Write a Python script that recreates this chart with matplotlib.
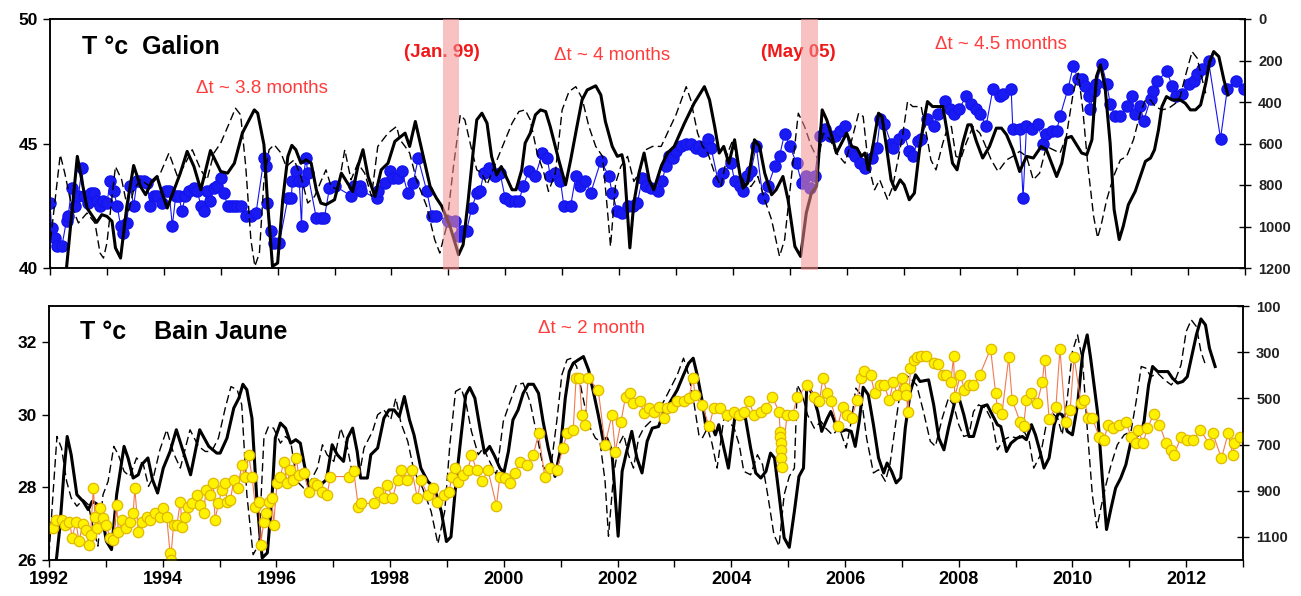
import matplotlib
matplotlib.use("Agg")
import matplotlib.pyplot as plt

plt.rcParams["font.family"] = ["Liberation Sans", "DejaVu Sans"]

# ── Data ─────────────────────────────────────────────────────────────────────
# Galion: blue dots = temperature (left axis), black lines on the inverted right axis
GALION_T = [
    (1992.00, 42.6), (1992.03, 41.6), (1992.09, 41.2), (1992.13, 40.9), (1992.21, 40.9), (1992.29, 41.9),
    (1992.32, 42.1), (1992.38, 43.2), (1992.44, 42.5), (1992.50, 42.9), (1992.56, 44.0), (1992.60, 42.9),
    (1992.66, 42.6), (1992.72, 43.0), (1992.78, 43.0), (1992.82, 42.7), (1992.88, 42.5), (1992.94, 42.7),
    (1993.00, 42.6), (1993.06, 43.5), (1993.12, 43.1), (1993.18, 42.5), (1993.24, 41.7), (1993.29, 41.4),
    (1993.35, 41.8), (1993.41, 43.3), (1993.47, 42.5), (1993.53, 43.5), (1993.59, 43.5), (1993.65, 43.5),
    (1993.71, 43.4), (1993.76, 42.5), (1993.82, 42.9), (1993.88, 42.9), (1993.97, 42.6), (1994.03, 43.1),
    (1994.09, 43.1), (1994.15, 41.7), (1994.21, 42.9), (1994.26, 42.9), (1994.32, 42.3), (1994.38, 42.9),
    (1994.44, 43.1), (1994.53, 43.2), (1994.59, 43.1), (1994.65, 42.5), (1994.71, 42.3), (1994.76, 43.1),
    (1994.82, 42.7), (1994.88, 43.2), (1994.94, 43.3), (1995.00, 43.6), (1995.06, 43.0), (1995.12, 42.5),
    (1995.18, 42.5), (1995.24, 42.5), (1995.29, 42.5), (1995.35, 42.5), (1995.44, 42.1), (1995.53, 42.1),
    (1995.62, 42.2), (1995.76, 44.4), (1995.79, 44.1), (1995.82, 42.6), (1995.88, 41.5), (1995.94, 41.0),
    (1996.03, 41.0), (1996.18, 42.8), (1996.24, 42.8), (1996.26, 43.5), (1996.32, 43.9), (1996.38, 43.5),
    (1996.42, 41.7), (1996.44, 43.5), (1996.50, 44.4), (1996.53, 43.8), (1996.68, 42.0), (1996.76, 42.0),
    (1996.82, 42.0), (1996.91, 43.2), (1997.00, 43.3), (1997.29, 42.9), (1997.35, 43.3), (1997.44, 43.3),
    (1997.47, 43.1), (1997.74, 42.8), (1997.76, 43.1), (1997.88, 43.4), (1997.97, 43.9), (1998.03, 43.6),
    (1998.12, 43.6), (1998.18, 43.9), (1998.29, 43.0), (1998.38, 43.4), (1998.47, 44.4), (1998.62, 43.1),
    (1998.71, 42.1), (1998.79, 42.1), (1999.00, 41.9), (1999.12, 41.9), (1999.18, 41.3), (1999.24, 41.5),
    (1999.32, 41.5), (1999.41, 42.4), (1999.50, 43.0), (1999.56, 43.1), (1999.62, 43.8), (1999.71, 44.0),
    (1999.82, 43.7), (1999.91, 43.8), (2000.00, 42.8), (2000.09, 42.7), (2000.18, 42.7), (2000.24, 42.7),
    (2000.32, 43.3), (2000.41, 43.9), (2000.53, 43.7), (2000.65, 44.6), (2000.74, 44.4), (2000.79, 43.7),
    (2000.88, 43.8), (2000.97, 43.5), (2001.03, 42.5), (2001.15, 42.5), (2001.24, 43.7), (2001.32, 43.3),
    (2001.41, 43.5), (2001.50, 43.0), (2001.68, 44.3), (2001.82, 43.7), (2001.88, 43.0), (2001.97, 42.3),
    (2002.06, 42.2), (2002.15, 42.5), (2002.24, 42.5), (2002.32, 42.6), (2002.41, 43.6), (2002.47, 43.3),
    (2002.56, 43.2), (2002.68, 43.1), (2002.76, 43.5), (2002.82, 44.1), (2002.88, 44.5), (2002.94, 44.4),
    (2003.00, 44.7), (2003.09, 44.9), (2003.18, 45.0), (2003.26, 45.0), (2003.35, 44.8), (2003.41, 44.9),
    (2003.47, 44.7), (2003.56, 45.2), (2003.62, 44.8), (2003.74, 43.5), (2003.82, 43.8), (2003.97, 44.2),
    (2004.03, 43.5), (2004.12, 43.3), (2004.18, 43.1), (2004.24, 43.7), (2004.32, 43.9), (2004.41, 44.9),
    (2004.53, 42.8), (2004.62, 43.3), (2004.74, 44.1), (2004.82, 44.5), (2004.91, 45.4), (2005.00, 44.9),
    (2005.12, 44.2), (2005.21, 43.4), (2005.29, 43.7), (2005.35, 43.2), (2005.44, 43.7), (2005.53, 45.3),
    (2005.62, 45.6), (2005.71, 45.3), (2005.79, 45.3), (2005.88, 45.5), (2005.97, 45.7), (2006.06, 44.7),
    (2006.15, 44.5), (2006.24, 44.2), (2006.32, 44.0), (2006.44, 44.4), (2006.53, 44.8), (2006.59, 46.0),
    (2006.66, 45.8), (2006.78, 45.0), (2006.81, 44.8), (2006.92, 45.2), (2007.01, 45.4), (2007.10, 44.7),
    (2007.16, 44.5), (2007.25, 45.1), (2007.31, 45.2), (2007.42, 46.0), (2007.54, 45.7), (2007.60, 46.2),
    (2007.72, 46.7), (2007.81, 46.4), (2007.89, 46.2), (2007.98, 46.4), (2008.10, 46.9), (2008.19, 46.6),
    (2008.28, 46.4), (2008.34, 46.2), (2008.45, 45.7), (2008.57, 47.2), (2008.69, 46.9), (2008.75, 47.0),
    (2008.89, 47.2), (2008.92, 45.6), (2009.04, 45.6), (2009.10, 42.8), (2009.16, 45.7), (2009.25, 45.6),
    (2009.36, 45.8), (2009.45, 45.0), (2009.51, 45.4), (2009.60, 45.5), (2009.69, 45.5), (2009.75, 46.1),
    (2009.89, 47.2), (2009.98, 48.1), (2010.07, 47.6), (2010.13, 47.6), (2010.19, 47.3), (2010.25, 46.9),
    (2010.28, 46.4), (2010.34, 47.1), (2010.39, 47.4), (2010.48, 48.2), (2010.57, 47.4), (2010.63, 46.6),
    (2010.72, 46.1), (2010.81, 46.1), (2010.92, 46.5), (2011.01, 46.9), (2011.07, 46.2), (2011.16, 46.5),
    (2011.22, 45.9), (2011.34, 46.8), (2011.39, 47.1), (2011.45, 47.5), (2011.63, 47.9), (2011.72, 47.3),
    (2011.78, 46.9), (2011.89, 47.0), (2012.01, 47.4), (2012.10, 47.5), (2012.16, 47.8), (2012.25, 48.0),
    (2012.36, 48.3), (2012.57, 45.2), (2012.69, 47.2), (2012.84, 47.5), (2012.98, 47.2),
]

GALION_SOLID = [
    (1992.00, 1200), (1992.08, 1260), (1992.20, 1260), (1992.29, 1200), (1992.48, 662), (1992.65, 911),
    (1992.82, 980), (1992.91, 943), (1993.00, 951), (1993.09, 975), (1993.15, 1103), (1993.24, 1152),
    (1993.35, 903), (1993.47, 706), (1993.59, 807), (1993.68, 847), (1993.79, 783), (1993.88, 759),
    (1993.97, 839), (1994.06, 911), (1994.18, 823), (1994.29, 743), (1994.41, 638), (1994.53, 711),
    (1994.65, 823), (1994.82, 634), (1995.00, 735), (1995.12, 743), (1995.24, 695), (1995.38, 550),
    (1995.59, 438), (1995.65, 454), (1995.76, 606), (1995.82, 871), (1995.91, 1192), (1996.00, 1176),
    (1996.09, 871), (1996.18, 662), (1996.25, 609), (1996.32, 630), (1996.41, 695), (1996.50, 679),
    (1996.59, 695), (1996.68, 823), (1996.76, 887), (1996.85, 895), (1997.00, 871), (1997.12, 743),
    (1997.21, 783), (1997.32, 831), (1997.41, 711), (1997.50, 630), (1997.59, 759), (1997.71, 855),
    (1997.82, 727), (1997.94, 695), (1998.06, 590), (1998.24, 550), (1998.32, 614), (1998.42, 494),
    (1998.56, 662), (1998.68, 807), (1998.79, 863), (1998.88, 900), (1999.03, 999), (1999.18, 1136),
    (1999.26, 1088), (1999.35, 871), (1999.44, 630), (1999.50, 486), (1999.59, 454), (1999.68, 502),
    (1999.76, 662), (1999.85, 751), (1999.93, 711), (2000.00, 751), (2000.12, 823), (2000.19, 823),
    (2000.29, 727), (2000.35, 598), (2000.44, 550), (2000.53, 462), (2000.62, 438), (2000.71, 446),
    (2000.79, 518), (2000.94, 679), (2001.06, 799), (2001.15, 679), (2001.26, 518), (2001.35, 390),
    (2001.44, 342), (2001.59, 322), (2001.68, 366), (2001.76, 494), (2001.88, 614), (2001.97, 662),
    (2002.05, 654), (2002.09, 703), (2002.19, 1103), (2002.26, 887), (2002.35, 743), (2002.44, 646),
    (2002.53, 775), (2002.61, 823), (2002.74, 711), (2002.85, 646), (2002.97, 614), (2003.15, 502),
    (2003.32, 406), (2003.50, 326), (2003.59, 390), (2003.68, 518), (2003.76, 646), (2003.84, 614),
    (2003.93, 695), (2004.03, 582), (2004.12, 743), (2004.18, 815), (2004.26, 791), (2004.38, 582),
    (2004.47, 614), (2004.56, 743), (2004.68, 847), (2004.76, 823), (2004.88, 759), (2004.97, 871),
    (2005.09, 1096), (2005.19, 1144), (2005.29, 935), (2005.38, 839), (2005.47, 807), (2005.53, 582),
    (2005.57, 438), (2005.65, 486), (2005.74, 566), (2005.82, 646), (2005.91, 598), (2006.00, 550),
    (2006.09, 614), (2006.18, 622), (2006.26, 662), (2006.32, 646), (2006.38, 727), (2006.47, 598),
    (2006.56, 454), (2006.62, 470), (2006.69, 598), (2006.78, 775), (2006.85, 823), (2006.94, 775),
    (2007.01, 799), (2007.10, 871), (2007.19, 839), (2007.28, 630), (2007.36, 486), (2007.42, 398),
    (2007.51, 422), (2007.69, 422), (2007.81, 614), (2007.86, 695), (2007.94, 727), (2008.04, 598),
    (2008.13, 510), (2008.19, 510), (2008.28, 590), (2008.39, 670), (2008.51, 614), (2008.63, 526),
    (2008.72, 526), (2008.81, 558), (2008.92, 630), (2009.04, 735), (2009.16, 662), (2009.28, 670),
    (2009.42, 614), (2009.51, 630), (2009.60, 695), (2009.69, 759), (2009.78, 695), (2009.86, 574),
    (2009.95, 566), (2010.04, 606), (2010.13, 646), (2010.22, 654), (2010.31, 582), (2010.39, 277),
    (2010.46, 221), (2010.54, 326), (2010.63, 598), (2010.70, 919), (2010.79, 1063), (2010.86, 999),
    (2010.95, 895), (2011.07, 831), (2011.16, 759), (2011.25, 686), (2011.34, 670), (2011.41, 630),
    (2011.48, 534), (2011.54, 422), (2011.62, 374), (2011.72, 390), (2011.86, 390), (2011.95, 406),
    (2012.04, 438), (2012.13, 438), (2012.22, 414), (2012.31, 310), (2012.38, 205), (2012.45, 157),
    (2012.54, 181), (2012.63, 294), (2012.70, 366),
]

GALION_DASHED = [
    (1992.01, 1064), (1992.18, 654), (1992.26, 743), (1992.38, 903), (1992.50, 983), (1992.65, 935),
    (1992.79, 983), (1992.88, 1128), (1992.94, 1152), (1993.00, 1080), (1993.15, 711), (1993.26, 775),
    (1993.38, 935), (1993.47, 823), (1993.59, 775), (1993.76, 807), (1993.94, 743), (1994.09, 646),
    (1994.24, 759), (1994.35, 711), (1994.50, 630), (1994.65, 727), (1994.76, 775), (1994.88, 646),
    (1995.00, 598), (1995.15, 502), (1995.26, 430), (1995.35, 462), (1995.44, 711), (1995.53, 1063),
    (1995.60, 1192), (1995.68, 1128), (1995.76, 775), (1995.85, 630), (1995.94, 606), (1996.06, 646),
    (1996.15, 711), (1996.29, 679), (1996.41, 759), (1996.53, 887), (1996.65, 855), (1996.76, 783),
    (1996.85, 727), (1996.94, 807), (1997.06, 823), (1997.18, 630), (1997.29, 775), (1997.41, 695),
    (1997.53, 743), (1997.65, 855), (1997.76, 614), (1997.94, 550), (1998.09, 518), (1998.15, 582),
    (1998.24, 614), (1998.32, 646), (1998.44, 775), (1998.62, 903), (1998.76, 1063), (1998.85, 1128),
    (1998.97, 999), (1999.09, 711), (1999.21, 462), (1999.29, 486), (1999.41, 630), (1999.50, 727),
    (1999.59, 743), (1999.68, 799), (1999.76, 743), (1999.88, 662), (2000.00, 582), (2000.12, 502),
    (2000.24, 446), (2000.35, 438), (2000.44, 486), (2000.56, 646), (2000.68, 743), (2000.76, 831),
    (2000.88, 743), (2001.00, 438), (2001.12, 350), (2001.24, 326), (2001.35, 382), (2001.47, 518),
    (2001.59, 614), (2001.71, 662), (2001.79, 903), (2001.85, 1096), (2001.94, 791), (2002.03, 711),
    (2002.15, 662), (2002.26, 783), (2002.35, 743), (2002.47, 630), (2002.59, 614), (2002.74, 614),
    (2002.85, 550), (2003.00, 462), (2003.18, 326), (2003.26, 390), (2003.38, 550), (2003.47, 614),
    (2003.56, 646), (2003.68, 743), (2003.79, 807), (2003.91, 646), (2004.00, 582), (2004.09, 711),
    (2004.21, 799), (2004.32, 807), (2004.44, 759), (2004.56, 871), (2004.68, 967), (2004.82, 1144),
    (2004.91, 1063), (2005.03, 759), (2005.15, 454), (2005.26, 518), (2005.38, 614), (2005.50, 679),
    (2005.59, 550), (2005.71, 582), (2005.82, 646), (2005.97, 695), (2006.09, 582), (2006.21, 454),
    (2006.29, 470), (2006.38, 700), (2006.49, 823), (2006.58, 775), (2006.72, 871), (2006.81, 807),
    (2006.98, 566), (2007.07, 398), (2007.16, 422), (2007.31, 422), (2007.42, 582), (2007.48, 679),
    (2007.57, 727), (2007.69, 598), (2007.78, 518), (2007.84, 518), (2007.92, 662), (2008.01, 670),
    (2008.10, 598), (2008.22, 518), (2008.34, 550), (2008.42, 598), (2008.54, 679), (2008.66, 735),
    (2008.81, 679), (2008.92, 662), (2009.04, 638), (2009.16, 662), (2009.28, 775), (2009.39, 743),
    (2009.51, 614), (2009.63, 630), (2009.75, 646), (2009.86, 566), (2009.98, 358), (2010.07, 261),
    (2010.15, 438), (2010.24, 711), (2010.34, 951), (2010.41, 1055), (2010.48, 983), (2010.57, 871),
    (2010.69, 759), (2010.81, 679), (2010.92, 662), (2011.04, 582), (2011.16, 454), (2011.25, 390),
    (2011.34, 390), (2011.42, 422), (2011.54, 438), (2011.66, 430), (2011.78, 406), (2011.86, 374),
    (2011.95, 277), (2012.07, 157), (2012.16, 189), (2012.25, 294), (2012.31, 358),
]

# Bain Jaune: yellow dots = temperature (left axis), black lines on the inverted right axis
BAIN_T = [
    (1992.00, 26.87), (1992.07, 26.87), (1992.13, 27.10), (1992.22, 27.10), (1992.29, 26.97), (1992.36, 27.06),
    (1992.41, 26.60), (1992.47, 27.06), (1992.53, 26.51), (1992.59, 26.98), (1992.65, 26.83), (1992.71, 26.41),
    (1992.73, 26.69), (1992.78, 27.98), (1992.81, 27.19), (1992.85, 26.87), (1992.89, 27.42), (1992.95, 27.15),
    (1993.01, 26.97), (1993.07, 26.60), (1993.13, 26.55), (1993.19, 27.52), (1993.22, 26.78), (1993.29, 27.10),
    (1993.35, 26.87), (1993.42, 27.06), (1993.48, 27.29), (1993.51, 27.98), (1993.57, 26.78), (1993.63, 27.06),
    (1993.72, 27.19), (1993.78, 27.10), (1993.86, 27.29), (1993.95, 27.19), (1994.01, 27.42), (1994.07, 27.19),
    (1994.13, 26.18), (1994.14, 26.00), (1994.19, 26.97), (1994.25, 26.97), (1994.31, 27.61), (1994.34, 26.92),
    (1994.39, 27.19), (1994.45, 27.47), (1994.51, 27.56), (1994.60, 27.79), (1994.66, 27.52), (1994.72, 27.29),
    (1994.76, 27.93), (1994.84, 27.79), (1994.89, 28.11), (1994.92, 27.10), (1994.98, 27.56), (1995.04, 27.93),
    (1995.10, 28.11), (1995.13, 27.61), (1995.19, 27.65), (1995.25, 28.21), (1995.32, 27.98), (1995.39, 28.62),
    (1995.45, 28.30), (1995.51, 28.90), (1995.57, 28.30), (1995.63, 27.47), (1995.69, 27.61), (1995.72, 26.41),
    (1995.78, 27.06), (1995.82, 27.29), (1995.87, 27.61), (1995.92, 27.70), (1995.95, 26.97), (1996.01, 28.11),
    (1996.07, 28.30), (1996.13, 28.71), (1996.19, 28.11), (1996.24, 28.48), (1996.29, 28.21), (1996.35, 28.80),
    (1996.39, 28.34), (1996.48, 28.39), (1996.57, 27.88), (1996.66, 28.11), (1996.72, 28.07), (1996.81, 27.88),
    (1996.89, 27.79), (1996.95, 28.30), (1997.28, 28.30), (1997.36, 28.44), (1997.44, 27.47), (1997.49, 27.56),
    (1997.72, 27.56), (1997.78, 27.88), (1997.89, 27.70), (1997.95, 28.07), (1998.04, 27.70), (1998.13, 28.21),
    (1998.19, 28.48), (1998.29, 28.21), (1998.38, 28.48), (1998.48, 27.70), (1998.54, 28.21), (1998.66, 27.79),
    (1998.76, 27.98), (1998.82, 27.61), (1998.95, 27.79), (1999.04, 27.88), (1999.08, 28.30), (1999.14, 28.53),
    (1999.19, 28.16), (1999.28, 28.34), (1999.37, 28.48), (1999.43, 28.90), (1999.52, 28.48), (1999.62, 28.18),
    (1999.72, 28.48), (1999.87, 27.50), (1999.93, 28.30), (2000.02, 28.25), (2000.11, 28.11), (2000.19, 28.39),
    (2000.28, 28.71), (2000.40, 28.62), (2000.52, 28.90), (2000.61, 29.49), (2000.72, 28.30), (2000.81, 28.53),
    (2000.93, 28.48), (2001.04, 29.08), (2001.11, 29.49), (2001.22, 29.58), (2001.27, 31.01), (2001.33, 31.01),
    (2001.37, 30.00), (2001.43, 29.72), (2001.48, 31.01), (2001.66, 30.69), (2001.78, 29.17), (2001.90, 30.00),
    (2001.96, 28.99), (2002.06, 29.81), (2002.14, 30.50), (2002.21, 30.60), (2002.28, 30.32), (2002.40, 30.37),
    (2002.46, 30.04), (2002.55, 30.18), (2002.64, 30.09), (2002.72, 30.23), (2002.81, 29.91), (2002.87, 30.18),
    (2002.96, 30.23), (2003.05, 30.37), (2003.16, 30.37), (2003.25, 30.46), (2003.33, 31.01), (2003.36, 30.55),
    (2003.49, 30.27), (2003.61, 29.68), (2003.69, 30.18), (2003.81, 30.18), (2003.93, 30.00), (2004.05, 30.09),
    (2004.14, 30.00), (2004.22, 30.09), (2004.31, 30.38), (2004.40, 30.00), (2004.52, 30.09), (2004.61, 30.18),
    (2004.72, 30.50), (2004.84, 30.09), (2004.86, 29.54), (2004.865, 29.40), (2004.87, 29.22), (2004.875, 29.03),
    (2004.88, 28.80), (2004.885, 28.57), (2004.98, 30.00), (2005.08, 30.00), (2005.16, 30.50), (2005.34, 30.83),
    (2005.46, 30.50), (2005.55, 30.37), (2005.61, 31.01), (2005.69, 30.60), (2005.75, 30.38), (2005.87, 29.68),
    (2005.96, 30.23), (2006.04, 30.00), (2006.12, 29.91), (2006.21, 30.41), (2006.28, 31.01), (2006.34, 31.21),
    (2006.45, 31.10), (2006.52, 30.60), (2006.61, 30.83), (2006.69, 30.81), (2006.78, 30.41), (2006.85, 30.90),
    (2006.92, 30.55), (2007.00, 31.01), (2007.05, 30.73), (2007.08, 30.55), (2007.11, 30.09), (2007.15, 31.28),
    (2007.21, 31.51), (2007.26, 31.59), (2007.34, 31.61), (2007.43, 31.61), (2007.56, 31.42), (2007.63, 31.40),
    (2007.72, 31.10), (2007.78, 31.10), (2007.86, 30.90), (2007.91, 31.61), (2007.93, 30.50), (2008.03, 31.10),
    (2008.10, 30.69), (2008.18, 30.81), (2008.26, 30.81), (2008.37, 31.10), (2008.56, 31.82), (2008.65, 30.60),
    (2008.68, 30.18), (2008.76, 30.02), (2008.88, 31.59), (2008.94, 30.41), (2009.08, 29.81), (2009.14, 29.68),
    (2009.19, 30.40), (2009.28, 30.60), (2009.38, 30.32), (2009.47, 30.90), (2009.51, 31.51), (2009.59, 29.89),
    (2009.71, 30.23), (2009.78, 31.81), (2009.88, 29.81), (2009.96, 30.14), (2010.03, 31.59), (2010.15, 30.32),
    (2010.21, 30.41), (2010.28, 29.91), (2010.35, 29.91), (2010.47, 29.40), (2010.56, 29.31), (2010.62, 29.72),
    (2010.72, 29.63), (2010.82, 29.72), (2010.94, 29.81), (2011.03, 29.40), (2011.12, 29.22), (2011.16, 29.58),
    (2011.24, 29.22), (2011.32, 29.63), (2011.43, 30.02), (2011.53, 29.72), (2011.65, 29.22), (2011.74, 29.03),
    (2011.79, 28.90), (2011.91, 29.40), (2012.02, 29.31), (2012.12, 29.31), (2012.25, 29.58), (2012.41, 29.19),
    (2012.47, 29.49), (2012.62, 28.80), (2012.74, 29.49), (2012.82, 28.90), (2012.85, 29.22), (2012.94, 29.40),
]

BAIN_SOLID = [
    (1992.00, 1230), (1992.13, 1198), (1992.19, 1061), (1992.26, 830), (1992.32, 665), (1992.39, 744),
    (1992.49, 917), (1992.60, 946), (1992.69, 982), (1992.76, 946), (1992.86, 960), (1992.95, 1032),
    (1993.01, 1119), (1993.10, 1155), (1993.19, 917), (1993.32, 708), (1993.39, 758), (1993.48, 845),
    (1993.57, 831), (1993.63, 787), (1993.74, 758), (1993.82, 852), (1993.91, 910), (1994.01, 802),
    (1994.13, 730), (1994.24, 636), (1994.36, 730), (1994.49, 831), (1994.65, 636), (1994.81, 708),
    (1994.95, 737), (1995.01, 737), (1995.13, 672), (1995.25, 542), (1995.34, 499), (1995.41, 439),
    (1995.48, 463), (1995.57, 586), (1995.65, 917), (1995.72, 1119), (1995.75, 1191), (1995.84, 1169),
    (1995.92, 936), (1995.98, 672), (1996.07, 607), (1996.16, 629), (1996.25, 694), (1996.34, 679),
    (1996.42, 694), (1996.49, 787), (1996.57, 881), (1996.66, 895), (1996.78, 874), (1996.88, 852),
    (1996.98, 701), (1997.07, 744), (1997.18, 773), (1997.25, 672), (1997.34, 629), (1997.42, 730),
    (1997.48, 845), (1997.60, 845), (1997.66, 744), (1997.78, 715), (1997.89, 586), (1997.98, 550),
    (1998.07, 550), (1998.16, 579), (1998.25, 492), (1998.34, 593), (1998.42, 658), (1998.54, 802),
    (1998.66, 859), (1998.78, 888), (1998.90, 990), (1998.99, 1120), (1999.07, 1100), (1999.16, 859),
    (1999.25, 658), (1999.33, 485), (1999.40, 453), (1999.49, 499), (1999.58, 629), (1999.66, 737),
    (1999.75, 708), (1999.84, 751), (1999.93, 802), (2000.00, 823), (2000.08, 730), (2000.16, 593),
    (2000.25, 550), (2000.34, 478), (2000.43, 439), (2000.52, 439), (2000.61, 478), (2000.69, 600),
    (2000.78, 715), (2000.90, 838), (2000.99, 730), (2001.08, 499), (2001.15, 384), (2001.22, 348),
    (2001.31, 333), (2001.40, 319), (2001.49, 377), (2001.58, 478), (2001.66, 571), (2001.75, 686),
    (2001.81, 672), (2001.90, 730), (2001.96, 931), (2002.01, 1097), (2002.08, 816), (2002.16, 730),
    (2002.25, 643), (2002.34, 758), (2002.43, 823), (2002.52, 686), (2002.61, 629), (2002.72, 622),
    (2002.81, 564), (2002.93, 514), (2003.05, 463), (2003.16, 398), (2003.25, 348), (2003.33, 326),
    (2003.40, 398), (2003.49, 514), (2003.56, 636), (2003.64, 607), (2003.72, 658), (2003.78, 614),
    (2003.87, 715), (2003.95, 802), (2004.06, 586), (2004.16, 586), (2004.25, 586), (2004.34, 715),
    (2004.43, 823), (2004.52, 845), (2004.61, 816), (2004.69, 737), (2004.76, 758), (2004.84, 917),
    (2004.93, 1104), (2005.02, 1145), (2005.11, 989), (2005.19, 838), (2005.27, 802), (2005.33, 434),
    (2005.43, 485), (2005.52, 557), (2005.59, 643), (2005.69, 586), (2005.75, 557), (2005.84, 614),
    (2005.93, 643), (2006.02, 636), (2006.11, 643), (2006.18, 708), (2006.25, 600), (2006.32, 452),
    (2006.41, 485), (2006.50, 614), (2006.59, 758), (2006.68, 823), (2006.74, 780), (2006.82, 816),
    (2006.90, 866), (2006.98, 845), (2007.06, 629), (2007.15, 470), (2007.24, 398), (2007.32, 427),
    (2007.47, 420), (2007.56, 528), (2007.65, 672), (2007.74, 723), (2007.82, 629), (2007.94, 506),
    (2008.02, 511), (2008.09, 571), (2008.18, 665), (2008.26, 665), (2008.35, 586), (2008.41, 535),
    (2008.50, 528), (2008.59, 571), (2008.68, 614), (2008.74, 622), (2008.84, 730), (2008.92, 694),
    (2009.03, 672), (2009.12, 665), (2009.19, 679), (2009.28, 614), (2009.35, 658), (2009.43, 730),
    (2009.50, 802), (2009.59, 758), (2009.68, 614), (2009.75, 564), (2009.82, 571), (2009.91, 643),
    (2010.00, 658), (2010.09, 528), (2010.18, 305), (2010.26, 225), (2010.32, 326), (2010.44, 557),
    (2010.53, 859), (2010.60, 1068), (2010.68, 975), (2010.76, 888), (2010.85, 845), (2010.94, 787),
    (2011.03, 686), (2011.12, 665), (2011.21, 650), (2011.26, 600), (2011.34, 442), (2011.41, 362),
    (2011.50, 384), (2011.59, 384), (2011.68, 384), (2011.76, 413), (2011.85, 434), (2011.94, 427),
    (2012.02, 406), (2012.09, 326), (2012.18, 225), (2012.26, 156), (2012.34, 182), (2012.41, 283),
    (2012.51, 362),
]

BAIN_DASHED = [
    (1992.00, 1177), (1992.07, 917), (1992.14, 665), (1992.22, 715), (1992.31, 859), (1992.39, 931),
    (1992.49, 967), (1992.60, 939), (1992.69, 960), (1992.78, 1061), (1992.86, 1140), (1992.95, 917),
    (1993.04, 859), (1993.14, 708), (1993.22, 744), (1993.32, 816), (1993.42, 838), (1993.54, 758),
    (1993.66, 787), (1993.75, 881), (1993.84, 838), (1993.95, 723), (1994.07, 636), (1994.19, 737),
    (1994.31, 802), (1994.48, 636), (1994.63, 708), (1994.75, 730), (1994.86, 730), (1994.98, 672),
    (1995.10, 542), (1995.20, 449), (1995.31, 463), (1995.39, 528), (1995.48, 917), (1995.59, 1177),
    (1995.69, 1133), (1995.78, 672), (1995.86, 622), (1995.95, 629), (1996.07, 694), (1996.16, 665),
    (1996.25, 686), (1996.36, 859), (1996.48, 888), (1996.60, 859), (1996.72, 802), (1996.81, 701),
    (1996.89, 744), (1997.01, 773), (1997.13, 629), (1997.25, 715), (1997.34, 831), (1997.46, 831),
    (1997.54, 715), (1997.69, 643), (1997.78, 571), (1997.89, 550), (1998.01, 593), (1998.10, 499),
    (1998.19, 607), (1998.31, 686), (1998.42, 816), (1998.57, 888), (1998.72, 989), (1998.84, 1130),
    (1998.96, 989), (1999.05, 701), (1999.15, 470), (1999.25, 456), (1999.34, 528), (1999.43, 643),
    (1999.55, 744), (1999.64, 715), (1999.75, 773), (1999.87, 831), (1999.99, 600), (2000.11, 514),
    (2000.22, 442), (2000.34, 434), (2000.46, 514), (2000.58, 658), (2000.69, 795), (2000.81, 831),
    (2000.93, 600), (2001.02, 398), (2001.11, 333), (2001.19, 326), (2001.28, 362), (2001.37, 470),
    (2001.49, 614), (2001.61, 672), (2001.69, 686), (2001.78, 859), (2001.84, 1097), (2001.93, 831),
    (2002.02, 701), (2002.11, 658), (2002.19, 744), (2002.28, 802), (2002.37, 672), (2002.46, 629),
    (2002.58, 600), (2002.69, 557), (2002.81, 514), (2002.93, 456), (2003.05, 398), (2003.16, 326),
    (2003.25, 398), (2003.34, 514), (2003.43, 658), (2003.49, 672), (2003.58, 629), (2003.66, 694),
    (2003.75, 802), (2003.87, 586), (2003.96, 600), (2004.05, 629), (2004.14, 701), (2004.22, 816),
    (2004.34, 831), (2004.46, 744), (2004.55, 787), (2004.64, 917), (2004.75, 1090), (2004.84, 1140),
    (2004.93, 917), (2005.02, 838), (2005.11, 802), (2005.16, 442), (2005.25, 485), (2005.34, 571),
    (2005.46, 629), (2005.58, 600), (2005.66, 629), (2005.78, 658), (2005.90, 629), (2006.02, 715),
    (2006.11, 600), (2006.19, 456), (2006.28, 485), (2006.38, 672), (2006.50, 823), (2006.59, 809),
    (2006.71, 859), (2006.79, 787), (2006.88, 629), (2006.97, 470), (2007.06, 398), (2007.15, 413),
    (2007.26, 442), (2007.38, 557), (2007.50, 686), (2007.59, 708), (2007.71, 586), (2007.82, 499),
    (2007.91, 528), (2008.00, 614), (2008.09, 665), (2008.18, 658), (2008.26, 557), (2008.35, 528),
    (2008.47, 542), (2008.59, 600), (2008.68, 723), (2008.79, 679), (2008.91, 665), (2009.03, 672),
    (2009.15, 643), (2009.24, 686), (2009.32, 802), (2009.44, 744), (2009.56, 586), (2009.65, 564),
    (2009.74, 586), (2009.82, 658), (2009.91, 499), (2010.00, 297), (2010.09, 225), (2010.18, 341),
    (2010.26, 629), (2010.35, 917), (2010.43, 1061), (2010.50, 975), (2010.59, 874), (2010.68, 787),
    (2010.79, 701), (2010.91, 658), (2011.03, 643), (2011.12, 514), (2011.21, 362), (2011.29, 369),
    (2011.38, 406), (2011.50, 391), (2011.62, 420), (2011.74, 442), (2011.82, 413), (2011.91, 355),
    (2012.00, 211), (2012.09, 160), (2012.18, 189), (2012.26, 297), (2012.35, 362),
]

EVENT_SPANS = [(1998.90, 1999.18), (2005.19, 2005.50)]
YEAR_LABELS = list(range(1992, 2013, 2))

RED = "#FF3B3B"
RED_BOLD = "#F01818"


def xy(pairs):
    xs, ys = zip(*pairs)
    return list(xs), list(ys)


def style_axes(ax, axr):
    ax.set_xlim(1992, 2013)
    for a in (ax, axr):
        for s in a.spines.values():
            s.set_linewidth(1.1)
            s.set_color("black")
    ax.tick_params(axis="both", which="both", direction="out", length=5, width=1.0)
    # right-hand depth axis: ticks cross the spine
    axr.tick_params(axis="y", direction="inout", length=9, width=1.0, labelsize=10.5, pad=5,
                    labelcolor="#222222")
    for lbl in axr.get_yticklabels():
        lbl.set_fontweight("bold")
    for lbl in ax.get_yticklabels():
        lbl.set_fontweight("bold")
        lbl.set_fontsize(12.5)


fig = plt.figure(figsize=(13.01, 5.96), dpi=100)

# ── Top panel: Galion ────────────────────────────────────────────────────────
ax1 = fig.add_axes([50 / 1301, 1 - 268 / 596, (1245 - 50) / 1301, (268 - 19) / 596])
ax1r = ax1.twinx()

x, y = xy(GALION_T)
ax1.plot(x, y, "-o", color="#1414F0", lw=0.8, ms=8, mec="#1414F0", mfc="#1A1AF2", zorder=2)
ax1.set_ylim(40, 50)
ax1.set_yticks([40, 45, 50])
ax1.set_xticks(range(1992, 2014))
ax1.set_xticklabels([])

x, y = xy(GALION_DASHED)
ax1r.plot(x, y, color="black", lw=1.0, dashes=(6, 3))
x, y = xy(GALION_SOLID)
ax1r.plot(x, y, color="black", lw=2.2)
ax1r.set_ylim(1200, 0)
ax1r.set_yticks(range(0, 1201, 200))
for a, b in EVENT_SPANS:
    ax1r.axvspan(a, b, ymin=-0.01, ymax=1, color="#F59090", alpha=0.55, lw=0, zorder=5, clip_on=False)

style_axes(ax1, ax1r)

ax1.text(1992.56, 48.88, "T °c  Galion", fontsize=18, fontweight="bold", va="center", ha="left")
ax1.text(1995.73, 47.19, "Δt ~ 3.8 months", fontsize=13.5, color=RED, va="center", ha="center")
ax1.text(1998.88, 48.67, "(Jan. 99)", fontsize=13.5, color=RED_BOLD, fontweight="bold", va="center", ha="center")
ax1.text(2001.88, 48.55, "Δt ~ 4 months", fontsize=13.5, color=RED, va="center", ha="center")
ax1.text(2005.15, 48.67, "(May 05)", fontsize=13.5, color=RED_BOLD, fontweight="bold", va="center", ha="center")
ax1.text(2008.71, 48.96, "Δt ~ 4.5 months", fontsize=13.5, color=RED, va="center", ha="center")

# ── Bottom panel: Bain Jaune ─────────────────────────────────────────────────
ax2 = fig.add_axes([49 / 1301, 1 - 560 / 596, (1243 - 49) / 1301, (560 - 306) / 596])
ax2r = ax2.twinx()
# yellow dots on top of the black curves
ax2.set_zorder(ax2r.get_zorder() + 1)
ax2.patch.set_visible(False)

x, y = xy(BAIN_T)
ax2.plot(x, y, "-o", color="#F07A50", lw=0.8, ms=7.5, mfc="#FFF200", mec="#E0B800", mew=0.9)
ax2.set_ylim(26, 33)
ax2.set_yticks([26, 28, 30, 32])
ax2.set_xticks(YEAR_LABELS)
ax2.set_xticks(range(1992, 2014), minor=True)
ax2.set_xticklabels([str(v) for v in YEAR_LABELS], fontsize=13, fontweight="bold")

x, y = xy(BAIN_DASHED)
ax2r.plot(x, y, color="black", lw=1.0, dashes=(6, 3))
x, y = xy(BAIN_SOLID)
ax2r.plot(x, y, color="black", lw=2.2)
ax2r.set_ylim(1200, 100)
ax2r.set_yticks(range(100, 1101, 200))

style_axes(ax2, ax2r)
ax2.tick_params(axis="x", which="both", pad=3)

ax2.text(1992.54, 32.28, "T °c    Bain Jaune", fontsize=18, fontweight="bold", va="center", ha="left")
ax2.text(2001.55, 32.39, "Δt ~ 2 month", fontsize=13.5, color=RED, va="center", ha="center")

fig.savefig("out.png", dpi=100)
plt.close(fig)
